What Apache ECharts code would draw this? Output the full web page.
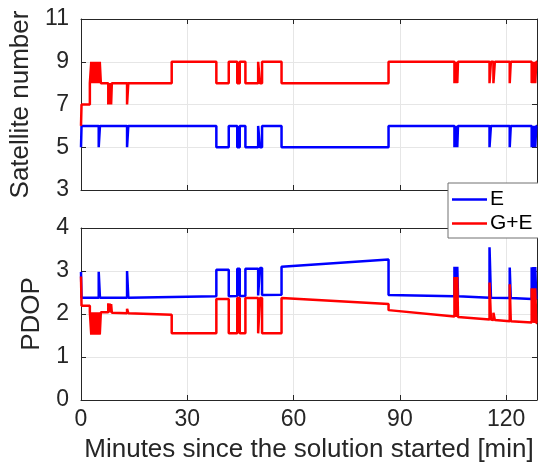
<!DOCTYPE html>
<html>
<head>
<meta charset="utf-8">
<script src="https://cdn.jsdelivr.net/npm/echarts@6/dist/echarts.min.js"></script>
<style>
html,body{margin:0;padding:0;background:#fff;}
#chart{width:538px;height:467px;}
</style>
</head>
<body>
<div id="chart"></div>
<script>
// ---- data (minutes, value) ----
const seriesNames = ['E', 'G+E'];
const xTicks = [0, 30, 60, 90, 120];
const satTicks = [3, 5, 7, 9, 11];
const pdopTicks = [0, 1, 2, 3, 4];
const xMax = 128.7;

// Satellite number, step (value held until next point)
const satE = [
  [0,5],[0.15,6],[5.0,5],[5.35,6],[13.0,5],[13.35,6],
  [38.2,5],[41.7,6],[44.1,5],[44.8,6],[46.4,5],[50.0,6],[50.5,5],[51.1,6],[56.6,5],
  [86.8,6],
  [105.4,5],[105.6,6],[105.8,5],[106.0,6],[106.2,5],[106.4,6],
  [115.3,5],[115.7,6],
  [121.0,5],[121.3,6],
  [127.2,5],[127.5,6],[127.7,5],[128.0,6],[128.2,5],[128.5,6],[128.7,6]
];
const satGE = [
  [0,6],[0.15,7],[2.5,8],[2.9,9],[3.1,8],[3.3,9],[3.6,8],[3.8,9],[4.1,8],[4.3,9],
  [4.6,8],[4.8,9],[5.1,8],[5.3,9],[5.6,8],
  [7.7,7],[7.9,8],[8.1,7],[8.3,8],[8.5,7],[8.7,8],
  [13.0,7],[13.35,8],
  [25.6,9],
  [38.2,8],[41.7,9],[44.1,8],[44.8,9],[46.4,8],[50.0,9],[50.5,8],[51.1,9],[56.6,8],
  [86.8,9],
  [105.4,8],[105.6,9],[105.8,8],[106.0,9],[106.2,8],[106.4,9],
  [115.3,8],[115.7,9],[116.4,8],[116.8,9],
  [121.0,8],[121.3,9],
  [127.2,8],[127.5,9],[127.7,8],[128.0,9],[128.2,8],[128.5,9],[128.7,9]
];

// PDOP
const pdopE = [
  [0,2.98],[0.15,2.38],[5.0,2.38],[5.0,2.98],[5.35,2.98],[5.35,2.38],
  [13.0,2.38],[13.0,3.0],[13.35,3.0],[13.35,2.38],
  [38.2,2.41],[38.2,3.03],[41.7,3.03],[41.7,2.41],[44.1,2.42],[44.1,3.05],[44.8,3.05],[44.8,2.42],
  [46.4,2.42],[46.4,3.05],[50.0,3.05],[50.0,2.43],[50.5,2.43],[50.5,3.07],[51.1,3.07],[51.1,2.44],
  [56.6,2.45],[56.6,3.1],[86.8,3.27],[86.8,2.44],
  [105.4,2.41],[105.4,3.1],[105.6,3.1],[105.6,2.41],[105.8,2.41],[105.8,3.1],[106.0,3.1],[106.0,2.41],
  [106.2,2.41],[106.2,3.1],[106.4,3.1],[106.4,2.41],
  [115.3,2.38],[115.3,3.55],[115.7,3.55],[115.7,2.38],
  [121.0,2.37],[121.0,3.08],[121.3,3.08],[121.3,2.37],
  [127.2,2.35],[127.2,3.09],[127.5,3.09],[127.5,2.35],[127.7,2.35],[127.7,3.09],[128.0,3.09],[128.0,2.35],
  [128.2,2.35],[128.2,3.09],[128.5,3.09],[128.5,2.35],[128.7,2.35]
];
const pdopGE = [
  [0,2.87],[0.15,2.19],[2.5,2.19],[2.5,2.04],[2.9,2.04],[2.9,1.52],[3.1,1.52],[3.1,2.04],
  [3.3,2.04],[3.3,1.52],[3.6,1.52],[3.6,2.04],[3.8,2.04],[3.8,1.52],[4.1,1.52],[4.1,2.04],
  [4.3,2.04],[4.3,1.52],[4.6,1.52],[4.6,2.04],[4.8,2.04],[4.8,1.52],[5.1,1.52],[5.1,2.04],
  [5.3,2.04],[5.3,1.52],[5.6,1.52],[5.6,2.04],
  [7.7,2.04],[7.7,2.25],[7.9,2.25],[7.9,2.04],[8.1,2.04],[8.1,2.24],[8.3,2.24],[8.3,2.04],
  [8.5,2.04],[8.5,2.23],[8.7,2.23],[8.7,2.03],
  [13.0,2.02],[13.0,2.12],[13.35,2.12],[13.35,2.02],
  [25.6,1.98],[25.6,1.55],[38.2,1.55],[38.2,2.35],[41.7,2.35],[41.7,1.55],[44.1,1.55],[44.1,2.37],
  [44.8,2.37],[44.8,1.55],[46.4,1.55],[46.4,2.37],[50.0,2.37],[50.0,1.55],[50.5,1.55],[50.5,2.37],
  [51.1,2.37],[51.1,1.55],[56.6,1.55],[56.6,2.37],[86.8,2.23],[86.8,2.09],
  [105.4,1.94],[105.4,2.86],[105.6,2.86],[105.6,1.94],[105.8,1.94],[105.8,2.86],[106.0,2.86],[106.0,1.93],
  [106.2,1.93],[106.2,2.86],[106.4,2.86],[106.4,1.93],
  [115.3,1.87],[115.3,2.73],[115.7,2.73],[115.7,1.87],[116.4,1.86],[116.4,2.03],[116.8,2.03],[116.8,1.86],
  [121.0,1.83],[121.0,2.69],[121.3,2.69],[121.3,1.83],
  [127.2,1.80],[127.2,2.6],[127.5,2.6],[127.5,1.80],[127.7,1.80],[127.7,2.6],[128.0,2.6],[128.0,1.79],
  [128.2,1.79],[128.2,2.6],[128.5,2.6],[128.5,1.79],[128.7,1.79]
];

const txt = '#262626';
const font = 'Liberation Sans, Arial, Helvetica, sans-serif';
const gridCol = '#e6e6e6';
const lw = 2.5;

function xAx(gi, main, showLabels) {
  return {
    type: 'value', gridIndex: gi, min: 0, max: xMax, interval: 30,
    position: main ? 'bottom' : 'top',
    axisLine: {show: true, onZero: false, lineStyle: {color: txt, width: 1}},
    axisTick: {show: true, inside: true, length: 5, lineStyle: {color: txt}},
    axisLabel: {show: main && showLabels, color: txt, fontSize: 23, fontFamily: font, margin: 8, showMaxLabel: false},
    splitLine: {show: main, lineStyle: {color: gridCol, width: 1}},
    name: (main && showLabels) ? 'Minutes since the solution started [min]' : '',
    nameLocation: 'middle', nameGap: 37,
    nameTextStyle: {color: txt, fontSize: 26, fontFamily: font}
  };
}
function yAx(gi, main, min, max, interval, name, gap) {
  return {
    type: 'value', gridIndex: gi, min: min, max: max, interval: interval,
    position: main ? 'left' : 'right',
    axisLine: {show: true, onZero: false, lineStyle: {color: txt, width: 1}},
    axisTick: {show: true, inside: true, length: 5, lineStyle: {color: txt}},
    axisLabel: {show: main, color: txt, fontSize: 23, fontFamily: font, margin: 12},
    splitLine: {show: main, lineStyle: {color: gridCol, width: 1}},
    name: main ? name : '', nameLocation: 'middle', nameGap: gap, nameRotate: 90,
    nameTextStyle: {color: txt, fontSize: 26, fontFamily: font}
  };
}

const chart = echarts.init(document.getElementById('chart'), null, {renderer: 'canvas'});
chart.setOption({
  animation: false,
  backgroundColor: '#fff',
  grid: [
    {left: 81, top: 19, width: 456, height: 171},
    {left: 81, top: 228, width: 456, height: 172}
  ],
  xAxis: [xAx(0, true, false), xAx(0, false, false), xAx(1, true, true), xAx(1, false, false)],
  yAxis: [
    yAx(0, true, satTicks[0], satTicks[satTicks.length-1], 2, 'Satellite number', 42),
    yAx(0, false, satTicks[0], satTicks[satTicks.length-1], 2, '', 0),
    yAx(1, true, pdopTicks[0], pdopTicks[pdopTicks.length-1], 1, 'PDOP', 28),
    yAx(1, false, pdopTicks[0], pdopTicks[pdopTicks.length-1], 1, '', 0)
  ],
  legend: {
    data: seriesNames, orient: 'vertical', left: 448, top: 183,
    backgroundColor: '#fff', borderColor: '#707070', borderWidth: 1, borderRadius: 0,
    padding: [6, 8, 4, 4], itemGap: 3, itemWidth: 35, itemHeight: 2.5,
    icon: 'rect',
    textStyle: {color: '#000', fontSize: 21, fontFamily: font, padding: [0, 0, 0, -2]},
    z: 10
  },
  series: [
    {name: seriesNames[0], type: 'line', xAxisIndex: 0, yAxisIndex: 0, step: 'end', data: satE,
     showSymbol: false, symbol: 'none', lineStyle: {color: '#0000ff', width: lw}, itemStyle: {color: '#0000ff'}},
    {name: seriesNames[1], type: 'line', xAxisIndex: 0, yAxisIndex: 0, step: 'end', data: satGE,
     showSymbol: false, symbol: 'none', lineStyle: {color: '#ff0000', width: lw}, itemStyle: {color: '#ff0000'}},
    {name: seriesNames[0], type: 'line', xAxisIndex: 2, yAxisIndex: 2, data: pdopE,
     showSymbol: false, symbol: 'none', lineStyle: {color: '#0000ff', width: lw}, itemStyle: {color: '#0000ff'}},
    {name: seriesNames[1], type: 'line', xAxisIndex: 2, yAxisIndex: 2, data: pdopGE,
     showSymbol: false, symbol: 'none', lineStyle: {color: '#ff0000', width: lw}, itemStyle: {color: '#ff0000'}}
  ]
});
</script>
</body>
</html>
